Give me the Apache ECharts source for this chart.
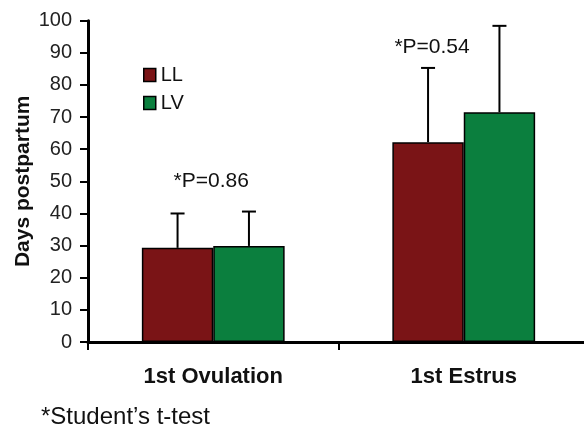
<!DOCTYPE html>
<html>
<head>
<meta charset="utf-8">
<script src="https://cdn.jsdelivr.net/npm/echarts@6/dist/echarts.min.js"></script>
<style>html,body{margin:0;padding:0;background:#fff}#c{width:584px;height:432px}</style>
</head>
<body>
<div id="c"></div>
<script>
var categories = ['1st Ovulation', '1st Estrus'];
var seriesNames = ['LL', 'LV'];
var llMeans = [29.3, 62.2];
var lvMeans = [29.9, 71.5];
var llErrTop = [40.0, 85.3];
var lvErrTop = [40.6, 98.4];
var pLabels = ['*P=0.86', '*P=0.54'];
var yTicks = [0, 10, 20, 30, 40, 50, 60, 70, 80, 90, 100];

var FONT = '"Liberation Sans", Arial, sans-serif';
var BAR_FRAC = 0.285;

function errSeries(means, tops, side) {
  return {
    type: 'custom',
    silent: true,
    z: 3,
    data: means.map(function (m, i) { return [i, m, tops[i]]; }),
    renderItem: function (params, api) {
      var bw = api.size([1, 0])[0] * BAR_FRAC;
      var p0 = api.coord([api.value(0), api.value(1)]);
      var p1 = api.coord([api.value(0), api.value(2)]);
      var x = p0[0] + side * bw / 2;
      var cap = 7;
      return {
        type: 'group',
        children: [
          { type: 'line', shape: { x1: x, y1: p0[1], x2: x, y2: p1[1] }, style: { stroke: '#000', lineWidth: 2 } },
          { type: 'line', shape: { x1: x - cap, y1: p1[1], x2: x + cap, y2: p1[1] }, style: { stroke: '#000', lineWidth: 2 } }
        ]
      };
    }
  };
}

var pY = [50.1, 91.8];
var pSide = [0, -1];
var pShift = [-2, 4];

var chart = echarts.init(document.getElementById('c'), null, { renderer: 'canvas' });
chart.setOption({
  animation: false,
  textStyle: { fontFamily: FONT },
  grid: { left: 88, right: -5, top: 20.7, bottom: 90, containLabel: false, outerBoundsMode: 'none' },
  legend: {
    data: seriesNames,
    orient: 'vertical',
    left: 138,
    top: 60,
    itemWidth: 12,
    itemHeight: 13,
    itemGap: 8,
    icon: 'rect',
    textStyle: { fontSize: 20, color: '#111', fontFamily: FONT, padding: [0, 0, 0, 0] },
    itemStyle: { borderColor: '#000', borderWidth: 1.5 }
  },
  xAxis: {
    type: 'category',
    data: categories,
    axisLine: { lineStyle: { color: '#000', width: 3 } },
    axisTick: { show: true, length: 8, lineStyle: { color: '#000', width: 2 } },
    axisLabel: { fontSize: 22, fontWeight: 'bold', color: '#111', margin: 24, fontFamily: FONT }
  },
  yAxis: {
    type: 'value',
    min: 0, max: 100, interval: 10,
    name: 'Days postpartum',
    nameLocation: 'middle',
    nameGap: 54,
    nameMoveOverlap: false,
    nameRotate: 90,
    nameTextStyle: { fontSize: 21, fontWeight: 'bold', color: '#111', fontFamily: FONT },
    axisLine: { show: true, lineStyle: { color: '#000', width: 3 } },
    axisTick: { show: true, length: 8, lineStyle: { color: '#000', width: 2 } },
    splitLine: { show: false },
    axisLabel: {
      fontSize: 20, color: '#222', margin: 16, fontFamily: FONT,
      formatter: function (v) { return yTicks.indexOf(v) >= 0 ? String(v) : ''; }
    }
  },
  series: [
    {
      name: 'LL', type: 'bar', data: llMeans, barGap: '0%', barCategoryGap: '43%',
      itemStyle: { color: '#7A1416', borderColor: '#000', borderWidth: 1.5 }
    },
    {
      name: 'LV', type: 'bar', data: lvMeans, barGap: '0%', barCategoryGap: '43%',
      itemStyle: { color: '#0B7F3E', borderColor: '#000', borderWidth: 1.5 }
    },
    errSeries(llMeans, llErrTop, -1),
    errSeries(lvMeans, lvErrTop, 1),
    {
      type: 'custom',
      silent: true,
      data: pY.map(function (y, i) { return [i, y]; }),
      renderItem: function (params, api) {
        var bw = api.size([1, 0])[0] * BAR_FRAC;
        var p = api.coord([api.value(0), api.value(1)]);
        var i = params.dataIndex;
        return {
          type: 'text',
          x: p[0] + pSide[i] * bw / 2 + pShift[i],
          y: p[1],
          style: { text: pLabels[i], fontSize: 21, fontFamily: FONT, fill: '#111', align: 'center', verticalAlign: 'middle' }
        };
      }
    }
  ],
  graphic: [
    { type: 'text', left: 41, top: 405, style: { text: '*Student\u2019s t-test', fontSize: 24, fontFamily: FONT, fill: '#111' } }
  ]
});
</script>
</body>
</html>
